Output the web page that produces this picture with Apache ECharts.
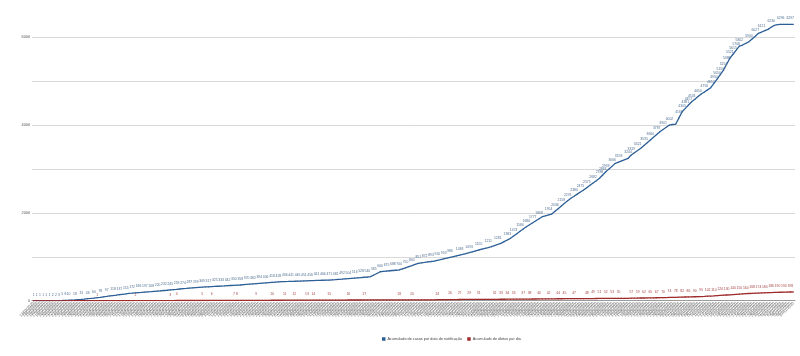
<!DOCTYPE html>
<html>
<head>
<meta charset="utf-8">
<script src="https://cdn.jsdelivr.net/npm/echarts@6/dist/echarts.min.js"></script>
<style>html,body{margin:0;padding:0;background:#fff}#c{width:800px;height:356px}</style>
</head>
<body>
<div id="c"></div>
<script>
const categories = [
"13/03/2020","14/03/2020","15/03/2020","16/03/2020","17/03/2020","18/03/2020","19/03/2020","20/03/2020","21/03/2020","22/03/2020","23/03/2020","24/03/2020","25/03/2020","26/03/2020","27/03/2020","28/03/2020","29/03/2020","30/03/2020","31/03/2020",
"01/04/2020","02/04/2020","03/04/2020","04/04/2020","05/04/2020","06/04/2020","07/04/2020","08/04/2020","09/04/2020","10/04/2020","11/04/2020","12/04/2020","13/04/2020","14/04/2020","15/04/2020","16/04/2020","17/04/2020","18/04/2020","19/04/2020","20/04/2020","21/04/2020","22/04/2020","23/04/2020","24/04/2020","25/04/2020","26/04/2020","27/04/2020","28/04/2020","29/04/2020","30/04/2020",
"01/05/2020","02/05/2020","03/05/2020","04/05/2020","05/05/2020","06/05/2020","07/05/2020","08/05/2020","09/05/2020","10/05/2020","11/05/2020","12/05/2020","13/05/2020","14/05/2020","15/05/2020","16/05/2020","17/05/2020","18/05/2020","19/05/2020","20/05/2020","21/05/2020","22/05/2020","23/05/2020","24/05/2020","25/05/2020","26/05/2020","27/05/2020","28/05/2020","29/05/2020","30/05/2020","31/05/2020",
"01/06/2020","02/06/2020","03/06/2020","04/06/2020","05/06/2020","06/06/2020","07/06/2020","08/06/2020","09/06/2020","10/06/2020","11/06/2020","12/06/2020","13/06/2020","14/06/2020","15/06/2020","16/06/2020","17/06/2020","18/06/2020","19/06/2020","20/06/2020","21/06/2020","22/06/2020","23/06/2020","24/06/2020","25/06/2020","26/06/2020","27/06/2020","28/06/2020","29/06/2020","30/06/2020",
"01/07/2020","02/07/2020","03/07/2020","04/07/2020","05/07/2020","06/07/2020","07/07/2020","08/07/2020","09/07/2020","10/07/2020","11/07/2020","12/07/2020","13/07/2020","14/07/2020","15/07/2020","16/07/2020","17/07/2020","18/07/2020","19/07/2020","20/07/2020","21/07/2020","22/07/2020","23/07/2020","24/07/2020","25/07/2020","26/07/2020","27/07/2020","28/07/2020","29/07/2020","30/07/2020","31/07/2020",
"01/08/2020","02/08/2020","03/08/2020","04/08/2020","05/08/2020","06/08/2020","07/08/2020","08/08/2020","09/08/2020","10/08/2020","11/08/2020","12/08/2020","13/08/2020","14/08/2020","15/08/2020","16/08/2020","17/08/2020","18/08/2020","19/08/2020","20/08/2020","21/08/2020","22/08/2020","23/08/2020","24/08/2020","25/08/2020","26/08/2020","27/08/2020","28/08/2020","29/08/2020","30/08/2020","31/08/2020",
"01/09/2020","02/09/2020","03/09/2020","04/09/2020","05/09/2020","06/09/2020","07/09/2020","08/09/2020","09/09/2020","10/09/2020","11/09/2020","12/09/2020","13/09/2020","14/09/2020","15/09/2020","16/09/2020","17/09/2020","18/09/2020","19/09/2020","20/09/2020","21/09/2020","22/09/2020","23/09/2020","24/09/2020","25/09/2020","26/09/2020","27/09/2020","28/09/2020","29/09/2020","30/09/2020",
"01/10/2020","02/10/2020","03/10/2020","04/10/2020","05/10/2020","06/10/2020","07/10/2020","08/10/2020","09/10/2020","10/10/2020","11/10/2020","12/10/2020","13/10/2020","14/10/2020","15/10/2020","16/10/2020","17/10/2020","18/10/2020","19/10/2020","20/10/2020","21/10/2020","22/10/2020","23/10/2020","24/10/2020","25/10/2020","26/10/2020","27/10/2020","28/10/2020","29/10/2020","30/10/2020","31/10/2020",
"01/11/2020","02/11/2020","03/11/2020","04/11/2020","05/11/2020","06/11/2020","07/11/2020"
];

const casos = [
1,1,1,1,1,1,2,2,3,5,8,10,14,18,25,31,38,46,52,60,69,78,88,97,108,118,127,137,146,155,165,
172,180,186,191,197,203,208,214,220,226,232,238,245,252,259,267,
274,280,287,293,299,305,
309,313,317,321,325,329,333,337,342,346,350,354,358,
364,370,376,382,388,394,400,406,412,418,423,428,433,
436,438,441,443,446,448,451,453,456,458,461,463,466,468,471,
476,481,487,492,498,504,510,516,522,528,534,540,547,
585,620,660,
668,675,682,688,694,700,
725,750,775,
800,826,851,
862,872,883,893,904,
920,936,953,969,986,1002,
1020,1038,1056,1075,1093,
1114,1134,1155,
1174,1193,1211,1230,
1256,1281,1307,
1345,1383,1421,
1474,1527,1580,1633,1686,
1731,1777,1822,1868,1913,
1934,1954,1975,
2036,2097,2158,2219,
2276,2333,
2380,2428,2475,2522,
2575,2628,2682,2735,2788,
2863,2939,
3003,3066,3130,
3158,3187,3215,3244,
3319,
3370,3421,3472,
3535,3597,3660,
3723,3787,3850,
3901,3951,4002,
4014,4025,
4165,4305,
4381,4457,4533,
4591,4650,4708,
4756,4804,4852,
4950,5050,5150,5254,
5388,5521,
5615,5708,5802,
5825,5862,5900,
5964,6027,6091,
6121,6152,6182,
6230,6272,
6290,6296,6297,6297,6297,6297
];

const obitos = [
0,0,0,0,0,0,0,0,0,0,0,0,0,0,0,0,0,0,0,0,
1,1,1,1,1,1,1,1,1,1,1,1,
2,2,2,2,2,2,2,2,2,2,2,
3,3,
4,4,4,4,4,4,4,4,
5,5,5,
6,6,6,6,6,6,6,
7,
8,8,8,8,8,8,
9,9,9,9,9,
10,10,10,10,
11,11,11,
12,12,12,12,
13,13,
14,14,14,14,14,
15,15,15,15,15,15,
16,16,16,16,16,
17,17,17,17,17,17,17,17,17,17,17,
18,
19,19,19,
20,20,20,20,20,20,20,20,
24,24,24,24,
26,26,26,
27,
28,28,
29,
30,30,
31,31,31,31,31,
32,32,
33,33,
34,34,
35,
36,36,
37,37,
38,
39,39,
40,
41,41,
42,
43,43,
44,44,
45,
46,46,
47,47,47,47,
48,48,
49,
50,
51,51,
52,52,
53,53,
55,55,55,55,
57,58,59,61,62,63,65,66,67,68,
70,72,74,76,78,80,82,84,86,88,
90,92,95,98,102,106,110,115,120,125,
130,135,140,145,150,155,160,164,168,171,
174,177,180,183,186,188,190,192,194,196,
198,199
];

const serieCasos = "Acumulado de casos por data de notificação";
const serieObitos = "Acumulado de óbitos por dia";

const chart = echarts.init(document.getElementById('c'), null, {renderer: 'canvas'});
const font = 'Liberation Sans, Arial, sans-serif';
chart.setOption({
  animation: false,
  textStyle: {fontFamily: font},
  grid: {left: 32, right: 5, top: 11, bottom: 55.3, containLabel: false},
  legend: {
    left: 377, top: 332,
    itemWidth: 3.5, itemHeight: 3.5, itemGap: 5, icon: 'rect',
    textStyle: {fontSize: 3.8, color: '#444', fontFamily: font, padding: [0, 0, 0, -3]},
    data: [serieCasos, serieObitos]
  },
  xAxis: {
    type: 'category',
    data: categories,
    boundaryGap: true,
    axisLine: {lineStyle: {color: '#9a9a9a', width: 1}},
    axisTick: {show: false},
    axisLabel: {interval: 0, rotate: 45, fontSize: 3.8, color: '#5e5e5e', margin: 2, fontFamily: font}
  },
  yAxis: {
    type: 'value',
    min: 0, max: 6600, interval: 1000,
    axisLine: {show: false},
    axisTick: {show: false},
    splitLine: {lineStyle: {color: '#d9d9d9', width: 1}, showMaxLine: false},
    axisLabel: {
      fontSize: 3.8, color: '#555', margin: 2, fontFamily: font,
      showMaxLabel: false,
      formatter: function (v) { return v % 2000 === 0 ? String(v) : ''; }
    }
  },
  series: [
    {
      name: serieCasos,
      type: 'line',
      data: casos,
      color: '#2d5f97',
      lineStyle: {width: 1.3, color: '#2d5f97'},
      symbol: 'circle', symbolSize: 1, showSymbol: true, showAllSymbol: true,
      itemStyle: {color: '#2d5f97'},
      label: {show: true, position: 'top', distance: 4, fontSize: 3.4, color: '#4f6f91', fontFamily: font},
      labelLayout: {hideOverlap: true}
    },
    {
      name: serieObitos,
      type: 'line',
      data: obitos,
      color: '#9e2b2b',
      lineStyle: {width: 1.3, color: '#9e2b2b'},
      symbol: 'circle', symbolSize: 1, showSymbol: true, showAllSymbol: true,
      itemStyle: {color: '#9e2b2b'},
      label: {
        show: true, position: 'top', distance: 4, fontSize: 3.4, color: '#a54444', fontFamily: font,
        formatter: function (p) {
          const i = p.dataIndex;
          return (i === 0 || obitos[i] !== obitos[i - 1]) ? String(obitos[i]) : '';
        }
      },
      labelLayout: {hideOverlap: true}
    }
  ]
});
</script>
</body>
</html>
